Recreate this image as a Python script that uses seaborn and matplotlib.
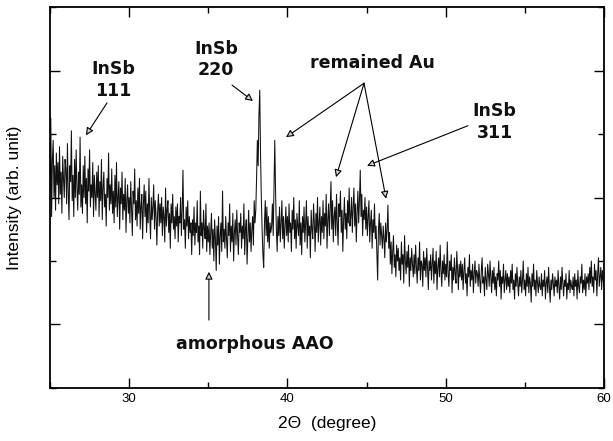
import numpy as np
import pandas as pd
import seaborn as sns
import matplotlib.pyplot as plt
from matplotlib.ticker import MultipleLocator, NullFormatter

# XRD intensity, 0.05 degree steps from 25 to 60
intensity = [
    3.1, 4.25, 2.7, 3.6, 3.9, 3.0, 3.5, 2.8, 3.7, 3.2, 3.55, 2.9, 3.8, 3.05, 3.4, 2.75, 3.65, 3.3, 3.0, 3.6,
    3.45, 2.9, 3.85, 3.1, 2.65, 3.5, 3.25, 4.05, 2.95, 3.35, 2.7, 3.6, 3.0, 3.75, 3.15, 2.8, 3.4, 3.05, 3.95, 2.85,
    3.2, 2.75, 3.5, 3.0, 3.65, 2.9, 3.3, 2.6, 3.45, 3.1, 3.75, 2.85, 3.2, 3.0, 3.55, 2.7, 3.35, 3.05, 2.8, 3.4,
    3.0, 3.5, 2.7, 3.25, 2.95, 3.6, 2.65, 3.15, 3.4, 2.85, 3.05, 2.55, 3.3, 3.0, 3.7, 2.8, 3.2, 2.9, 3.45, 2.75,
    3.1, 2.6, 3.35, 2.85, 3.55, 2.7, 3.0, 3.25, 2.5, 3.15, 2.9, 3.4, 2.65, 3.05, 2.8, 3.3, 2.45, 2.95, 3.2, 2.75,
    3.0, 2.6, 3.25, 2.8, 2.4, 3.1, 2.9, 3.45, 2.65, 2.95, 2.55, 3.15, 2.75, 3.3, 2.5, 2.85, 3.05, 2.35, 2.9, 3.2,
    2.7, 3.1, 2.45, 2.9, 2.6, 3.3, 2.75, 2.35, 3.0, 2.65, 2.85, 3.2, 2.5, 2.95, 2.7, 2.25, 2.8, 3.05, 2.55, 2.9,
    2.6, 3.0, 2.4, 2.85, 2.7, 2.3, 3.15, 2.55, 2.8, 2.95, 2.45, 2.75, 2.2, 2.9, 2.6, 3.05, 2.5, 2.7, 2.35, 2.85,
    2.55, 2.9, 2.3, 2.7, 2.6, 3.0, 2.4, 2.8, 3.43, 2.5, 2.65, 2.2, 2.85, 2.55, 2.95, 2.35, 2.7, 2.45, 2.6, 2.1,
    2.65, 2.4, 2.85, 2.25, 2.6, 2.45, 2.95, 2.3, 2.55, 2.1, 3.1, 2.4, 2.6, 2.2, 2.8, 2.5, 2.35, 2.9, 2.15, 2.55,
    2.3, 2.6, 2.1, 2.45, 2.75, 2.2, 2.5, 2.0, 2.65, 2.35, 1.85, 2.55, 2.25, 2.7, 1.95, 2.4, 2.6, 2.15, 3.1, 2.3,
    2.5, 2.2, 2.7, 2.35, 2.05, 2.6, 2.4, 2.9, 2.15, 2.55, 2.3, 2.75, 2.0, 2.45, 2.65, 2.25, 2.8, 2.4, 2.1, 2.6,
    2.45, 2.75, 2.2, 2.55, 2.35, 2.9, 2.1, 2.5, 2.65, 1.95, 2.4, 2.8, 2.3, 2.6, 2.15, 2.5, 2.7, 2.25, 2.95, 2.6,
    2.8, 3.3, 3.9, 3.5, 4.3, 4.69, 3.7, 3.0, 2.5, 2.1, 1.9, 2.6, 2.95, 2.4, 2.85, 2.3, 2.7, 2.2, 2.6, 2.45,
    2.55, 2.9, 2.4, 3.2, 3.9, 3.1, 2.5, 2.15, 2.7, 2.4, 2.85, 2.3, 2.6, 2.95, 2.35, 2.7, 2.2, 2.55, 2.85, 2.4,
    2.7, 2.3, 2.9, 2.45, 2.6, 2.15, 2.8, 2.5, 3.0, 2.35, 2.65, 2.2, 2.75, 2.55, 2.4, 2.95, 2.25, 2.6, 2.1, 2.7,
    2.45, 2.85, 2.3, 2.6, 2.95, 2.2, 2.7, 2.4, 2.55, 2.05, 2.8, 2.5, 2.35, 2.9, 2.6, 2.15, 2.75, 2.45, 3.0, 2.3,
    2.6, 2.85, 2.25, 2.7, 2.45, 2.95, 2.35, 2.75, 2.55, 3.05, 2.2, 2.65, 2.9, 2.4, 2.8, 3.25, 2.5, 2.95, 2.3, 2.7,
    2.85, 2.4, 3.05, 2.6, 2.25, 2.9, 2.7, 3.1, 2.45, 2.8, 2.15, 2.65, 3.0, 2.5, 2.75, 2.35, 2.95, 2.6, 3.15, 2.55,
    2.7, 3.0, 2.45, 2.85, 3.15, 2.55, 2.9, 2.3, 2.75, 3.1, 2.6, 2.95, 3.43, 2.7, 3.05, 2.4, 2.8, 2.65, 3.0, 2.5,
    2.85, 2.4, 2.7, 2.95, 2.3, 2.6, 2.8, 2.2, 2.65, 2.45, 2.9, 2.35, 2.55, 2.1, 1.7, 2.5, 2.75, 2.25, 2.6, 2.4,
    2.2, 2.55, 2.35, 2.05, 2.6, 2.3, 2.5, 2.88, 2.2, 2.45, 1.95, 2.3, 1.8, 2.15, 2.4, 1.9, 2.1, 1.75, 2.25, 2.0,
    2.2, 1.85, 2.05, 1.7, 2.3, 1.95, 2.1, 1.65, 2.4, 2.0, 1.8, 2.15, 1.9, 2.25, 1.6, 2.05, 1.85, 2.2, 1.95, 1.75,
    2.1, 1.8, 2.25, 1.9, 1.65, 2.05, 1.85, 2.3, 1.7, 2.0, 1.95, 1.6, 2.15, 1.85, 2.05, 1.75, 2.2, 1.9, 1.55, 2.0,
    1.85, 2.1, 1.7, 1.95, 2.2, 1.65, 2.0, 1.8, 2.15, 1.55, 1.9, 2.05, 1.75, 2.25, 1.85, 1.6, 2.0, 1.8, 2.1, 1.7,
    1.95, 1.75, 2.3, 1.8, 1.6, 2.0, 1.85, 2.1, 1.5, 1.9, 1.7, 2.05, 1.8, 1.65, 2.15, 1.85, 1.55, 1.95, 1.75, 2.0,
    1.7, 1.95, 1.55, 1.85, 2.05, 1.65, 1.8, 1.45, 1.9, 1.75, 2.1, 1.6, 1.85, 1.7, 1.95, 1.5, 1.8, 2.0, 1.65, 1.85,
    1.8, 1.6, 1.95, 1.7, 1.5, 1.85, 2.05, 1.65, 1.75, 1.45, 1.9, 1.7, 1.55, 1.95, 1.8, 1.6, 2.0, 1.75, 1.5, 1.85,
    1.65, 1.9, 1.55, 1.75, 1.45, 1.8, 1.7, 2.0, 1.6, 1.85, 1.4, 1.75, 1.65, 1.95, 1.5, 1.7, 1.85, 1.55, 1.8, 1.6,
    1.75, 1.5, 1.85, 1.65, 1.95, 1.55, 1.7, 1.4, 1.8, 1.6, 1.9, 1.65, 1.45, 1.75, 1.6, 1.85, 1.5, 1.7, 2.0, 1.55,
    1.7, 1.45, 1.8, 1.6, 1.9, 1.5, 1.75, 1.65, 1.35, 1.8, 1.6, 1.95, 1.55, 1.7, 1.45, 1.85, 1.65, 1.5, 1.75, 1.6,
    1.55, 1.8, 1.45, 1.7, 1.6, 1.85, 1.4, 1.65, 1.75, 1.5, 1.9, 1.6, 1.35, 1.7, 1.55, 1.8, 1.65, 1.45, 1.75, 1.6,
    1.7, 1.5, 1.85, 1.6, 1.4, 1.75, 1.55, 1.9, 1.65, 1.45, 1.7, 1.6, 1.8, 1.4, 1.65, 1.55, 1.85, 1.5, 1.7, 1.6,
    1.55, 1.75, 1.45, 1.8, 1.6, 1.7, 1.4, 1.85, 1.6, 1.5, 1.75, 1.65, 1.95, 1.5, 1.7, 1.55, 1.8, 1.45, 1.75, 1.65,
    1.8, 1.55, 1.9, 1.65, 2.0, 1.6, 1.75, 1.5, 1.95, 1.7, 1.85, 1.45, 1.8, 2.05, 1.6, 1.75, 1.9, 1.55, 1.85, 1.7,
    1.6,
]
two_theta = np.linspace(25, 60, len(intensity))

# annotation labels: (text, text position, arrow heads, arrow tail)
labels = [
    ("InSb\n111", (28.98, 4.85), [(27.27, 3.98)], (28.6, 4.49)),
    ("InSb\n220", (35.49, 5.17), [(37.82, 4.52)], (36.5, 4.77)),
    ("remained Au", (45.4, 5.12), [(39.91, 3.95), (43.07, 3.32), (46.23, 2.98)], (44.84, 4.80)),
    ("InSb\n311", (53.1, 4.19), [(45.03, 3.5)], (51.4, 4.13)),
    ("amorphous AAO", (37.95, 0.69), [(35.04, 1.83)], (35.04, 1.07)),
]

sns.set_style("ticks")
plt.rcParams['font.family'] = ['Liberation Sans', 'DejaVu Sans']
plt.rcParams['text.color'] = 'black'
plt.rcParams['axes.labelcolor'] = 'black'

df = pd.DataFrame({"2theta": two_theta, "I": intensity})

fig = plt.figure(figsize=(6.13, 4.41), dpi=100)
ax = fig.add_axes([0.0816, 0.1202, 0.9037, 0.8639])
sns.lineplot(data=df, x="2theta", y="I", ax=ax, color="#111111", lw=0.75)

ax.set_xlim(25, 60)
ax.set_ylim(0, 6)
ax.xaxis.set_major_locator(MultipleLocator(10))
ax.xaxis.set_minor_locator(MultipleLocator(5))
ax.yaxis.set_major_locator(MultipleLocator(2, offset=1))
ax.yaxis.set_minor_locator(MultipleLocator(1))
ax.yaxis.set_major_formatter(NullFormatter())
ax.tick_params(which="both", direction="in", top=True, right=True, width=1.0, labelsize=9.5, colors="black")
ax.tick_params(which="major", length=7)
ax.tick_params(which="minor", length=4)
for s in ax.spines.values():
    s.set_linewidth(1.3)
    s.set_color("black")

ax.set_xlabel("2\u0398  (degree)", fontsize=12.5, labelpad=8)
ax.set_ylabel("Intensity (arb. unit)", fontsize=12.5, labelpad=17)

for text, pos, heads, tail in labels:
    ax.text(pos[0], pos[1], text, ha="center", va="center", fontsize=12.5,
            family=["DejaVu Sans"], weight="semibold", linespacing=1.25, color="#111111")
    for h in heads:
        ax.annotate("", xy=h, xytext=tail,
                    arrowprops=dict(arrowstyle="-|>", fc="#d0d0d0", ec="black",
                                    lw=0.8, mutation_scale=11, shrinkA=0, shrinkB=0))

plt.savefig("out.png", dpi=100)
plt.close()
